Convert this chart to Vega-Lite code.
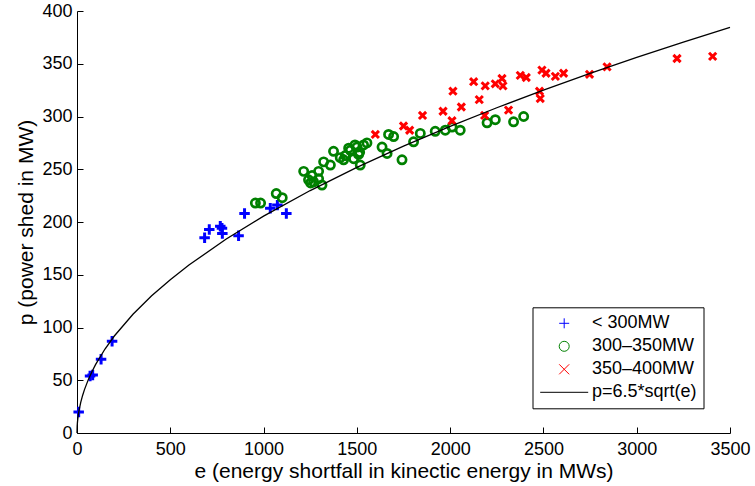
{
  "$schema": "https://vega.github.io/schema/vega-lite/v6.json",
  "width": 653,
  "height": 422,
  "autosize": "none",
  "padding": {"left": 77, "top": 11, "right": 25, "bottom": 53},
  "background": "white",
  "config": {
    "view": {"stroke": null},
    "font": "Liberation Sans",
    "axis": {
      "grid": false,
      "domainColor": "black",
      "tickColor": "black",
      "labelColor": "black",
      "titleColor": "black",
      "labelFont": "Liberation Sans",
      "titleFont": "Liberation Sans",
      "labelFontSize": 18,
      "titleFontSize": 21,
      "titleFontWeight": "normal",
      "tickSize": -6,
      "domainWidth": 1,
      "tickWidth": 1,
      "labelFlush": false,
      "labelOverlap": false,
      "format": "d"
    }
  },
  "datasets": {
    "pts": [
      {"e": 9, "p": 20, "series": "< 300MW"},
      {"e": 70, "p": 54, "series": "< 300MW"},
      {"e": 84, "p": 55, "series": "< 300MW"},
      {"e": 129, "p": 70, "series": "< 300MW"},
      {"e": 188, "p": 87, "series": "< 300MW"},
      {"e": 684, "p": 185, "series": "< 300MW"},
      {"e": 709, "p": 193, "series": "< 300MW"},
      {"e": 768, "p": 196, "series": "< 300MW"},
      {"e": 777, "p": 194, "series": "< 300MW"},
      {"e": 779, "p": 189, "series": "< 300MW"},
      {"e": 866, "p": 187, "series": "< 300MW"},
      {"e": 898, "p": 208, "series": "< 300MW"},
      {"e": 1036, "p": 213, "series": "< 300MW"},
      {"e": 1074, "p": 216, "series": "< 300MW"},
      {"e": 1122, "p": 208, "series": "< 300MW"},
      {"e": 956, "p": 218, "series": "300–350MW"},
      {"e": 984, "p": 218, "series": "300–350MW"},
      {"e": 1068, "p": 227, "series": "300–350MW"},
      {"e": 1100, "p": 223, "series": "300–350MW"},
      {"e": 1215, "p": 248, "series": "300–350MW"},
      {"e": 1241, "p": 240, "series": "300–350MW"},
      {"e": 1252, "p": 237, "series": "300–350MW"},
      {"e": 1268, "p": 238, "series": "300–350MW"},
      {"e": 1295, "p": 241, "series": "300–350MW"},
      {"e": 1313, "p": 235, "series": "300–350MW"},
      {"e": 1295, "p": 248, "series": "300–350MW"},
      {"e": 1260, "p": 244, "series": "300–350MW"},
      {"e": 1322, "p": 257, "series": "300–350MW"},
      {"e": 1358, "p": 254, "series": "300–350MW"},
      {"e": 1375, "p": 267, "series": "300–350MW"},
      {"e": 1411, "p": 261, "series": "300–350MW"},
      {"e": 1429, "p": 259, "series": "300–350MW"},
      {"e": 1438, "p": 263, "series": "300–350MW"},
      {"e": 1456, "p": 270, "series": "300–350MW"},
      {"e": 1465, "p": 268, "series": "300–350MW"},
      {"e": 1483, "p": 260, "series": "300–350MW"},
      {"e": 1490, "p": 273, "series": "300–350MW"},
      {"e": 1501, "p": 271, "series": "300–350MW"},
      {"e": 1509, "p": 264, "series": "300–350MW"},
      {"e": 1515, "p": 266, "series": "300–350MW"},
      {"e": 1518, "p": 254, "series": "300–350MW"},
      {"e": 1536, "p": 273, "series": "300–350MW"},
      {"e": 1554, "p": 275, "series": "300–350MW"},
      {"e": 1635, "p": 271, "series": "300–350MW"},
      {"e": 1662, "p": 265, "series": "300–350MW"},
      {"e": 1670, "p": 283, "series": "300–350MW"},
      {"e": 1697, "p": 281, "series": "300–350MW"},
      {"e": 1742, "p": 259, "series": "300–350MW"},
      {"e": 1804, "p": 276, "series": "300–350MW"},
      {"e": 1840, "p": 284, "series": "300–350MW"},
      {"e": 1920, "p": 286, "series": "300–350MW"},
      {"e": 1974, "p": 287, "series": "300–350MW"},
      {"e": 2010, "p": 290, "series": "300–350MW"},
      {"e": 2054, "p": 287, "series": "300–350MW"},
      {"e": 2198, "p": 294, "series": "300–350MW"},
      {"e": 2242, "p": 297, "series": "300–350MW"},
      {"e": 2340, "p": 295, "series": "300–350MW"},
      {"e": 2394, "p": 300, "series": "300–350MW"},
      {"e": 1599, "p": 283, "series": "350–400MW"},
      {"e": 1750, "p": 291, "series": "350–400MW"},
      {"e": 1783, "p": 287, "series": "350–400MW"},
      {"e": 1852, "p": 301, "series": "350–400MW"},
      {"e": 1962, "p": 305, "series": "350–400MW"},
      {"e": 2010, "p": 296, "series": "350–400MW"},
      {"e": 2015, "p": 324, "series": "350–400MW"},
      {"e": 2060, "p": 309, "series": "350–400MW"},
      {"e": 2126, "p": 333, "series": "350–400MW"},
      {"e": 2156, "p": 316, "series": "350–400MW"},
      {"e": 2185, "p": 301, "series": "350–400MW"},
      {"e": 2188, "p": 329, "series": "350–400MW"},
      {"e": 2242, "p": 331, "series": "350–400MW"},
      {"e": 2278, "p": 336, "series": "350–400MW"},
      {"e": 2283, "p": 329, "series": "350–400MW"},
      {"e": 2313, "p": 306, "series": "350–400MW"},
      {"e": 2376, "p": 339, "series": "350–400MW"},
      {"e": 2408, "p": 337, "series": "350–400MW"},
      {"e": 2479, "p": 324, "series": "350–400MW"},
      {"e": 2483, "p": 317, "series": "350–400MW"},
      {"e": 2492, "p": 344, "series": "350–400MW"},
      {"e": 2514, "p": 341, "series": "350–400MW"},
      {"e": 2564, "p": 338, "series": "350–400MW"},
      {"e": 2608, "p": 341, "series": "350–400MW"},
      {"e": 2747, "p": 340, "series": "350–400MW"},
      {"e": 2841, "p": 347, "series": "350–400MW"},
      {"e": 3216, "p": 355, "series": "350–400MW"},
      {"e": 3407, "p": 357, "series": "350–400MW"}
    ],
    "curve": [
      {"e": 0, "p": 0}, {"e": 1, "p": 6.5}, {"e": 2, "p": 9.19}, {"e": 3, "p": 11.26},
      {"e": 5, "p": 14.53}, {"e": 10, "p": 20.55}, {"e": 20, "p": 29.07}, {"e": 30, "p": 35.6},
      {"e": 40, "p": 41.11}, {"e": 60, "p": 50.35}, {"e": 80, "p": 58.14}, {"e": 100, "p": 65},
      {"e": 150, "p": 79.61}, {"e": 200, "p": 91.92}, {"e": 300, "p": 112.58}, {"e": 400, "p": 130},
      {"e": 500, "p": 145.34}, {"e": 600, "p": 159.22}, {"e": 800, "p": 183.85}, {"e": 1000, "p": 205.55},
      {"e": 1250, "p": 229.81}, {"e": 1500, "p": 251.74}, {"e": 1750, "p": 271.91}, {"e": 2000, "p": 290.69},
      {"e": 2250, "p": 308.31}, {"e": 2500, "p": 325}, {"e": 2750, "p": 340.86}, {"e": 3000, "p": 356.02},
      {"e": 3250, "p": 370.56}, {"e": 3500, "p": 384.54}
    ]
  },
  "encoding": {
    "x": {
      "field": "e", "type": "quantitative",
      "scale": {"domain": [0, 3500], "nice": false, "zero": false},
      "axis": {"values": [0, 500, 1000, 1500, 2000, 2500, 3000, 3500], "labelPadding": 13.5,
               "title": "e (energy shortfall in kinectic energy in MWs)", "titleY": 44, "titleBaseline": "alphabetic"}
    },
    "y": {
      "field": "p", "type": "quantitative",
      "scale": {"domain": [0, 400], "nice": false, "zero": false},
      "axis": {"values": [0, 50, 100, 150, 200, 250, 300, 350, 400], "labelPadding": 11,
               "title": "p (power shed in MW)", "titleX": -45, "titleBaseline": "alphabetic"}
    }
  },
  "layer": [
    {
      "data": {"name": "pts"},
      "transform": [{"filter": "datum.series === '< 300MW'"}],
      "mark": {"type": "point", "filled": false, "size": 110, "strokeWidth": 3, "opacity": 1},
      "encoding": {
        "color": {
          "field": "series", "type": "nominal",
          "scale": {"domain": ["< 300MW", "300–350MW", "350–400MW", "p=6.5*sqrt(e)"],
                    "range": ["#0000ff", "#008000", "#ff0000", "#000000"]},
          "legend": {
            "orient": "none", "legendX": 455.5, "legendY": 296.3, "title": null,
            "strokeColor": "black", "fillColor": "white", "padding": 7,
            "labelFont": "Liberation Sans", "labelFontSize": 18, "labelColor": "black",
            "rowPadding": 5, "symbolOffset": 15.7, "labelOffset": 18.7, "symbolStrokeWidth": 1,
            "encode": {
              "symbols": {
                "update": {
                  "size": {"signal": "datum.value === '350–400MW' ? 49 : (datum.value === '300–350MW' ? 64 : 81)"},
                  "strokeWidth": {"signal": "datum.value === 'p=6.5*sqrt(e)' ? 1.3 : 1"}
                }
              }
            }
          }
        },
        "shape": {
          "field": "series", "type": "nominal",
          "scale": {"domain": ["< 300MW", "300–350MW", "350–400MW", "p=6.5*sqrt(e)"],
                    "range": ["M-1,0L1,0M0,-1L0,1", "circle", "M-1,-1L1,1M-1,1L1,-1", "M-4.8,0L4.8,0"]}
        }
      }
    },
    {
      "data": {"name": "pts"},
      "transform": [{"filter": "datum.series === '300–350MW'"}],
      "mark": {"type": "point", "filled": false, "size": 68, "strokeWidth": 2.7, "opacity": 1},
      "encoding": {
        "color": {"field": "series", "type": "nominal"},
        "shape": {"field": "series", "type": "nominal"}
      }
    },
    {
      "data": {"name": "pts"},
      "transform": [{"filter": "datum.series === '350–400MW'"}],
      "mark": {"type": "point", "filled": false, "size": 52, "strokeWidth": 3, "opacity": 1},
      "encoding": {
        "color": {"field": "series", "type": "nominal"},
        "shape": {"field": "series", "type": "nominal"}
      }
    },
    {
      "data": {"name": "curve"},
      "mark": {"type": "line", "color": "black", "strokeWidth": 1.3},
      "encoding": {}
    }
  ]
}
